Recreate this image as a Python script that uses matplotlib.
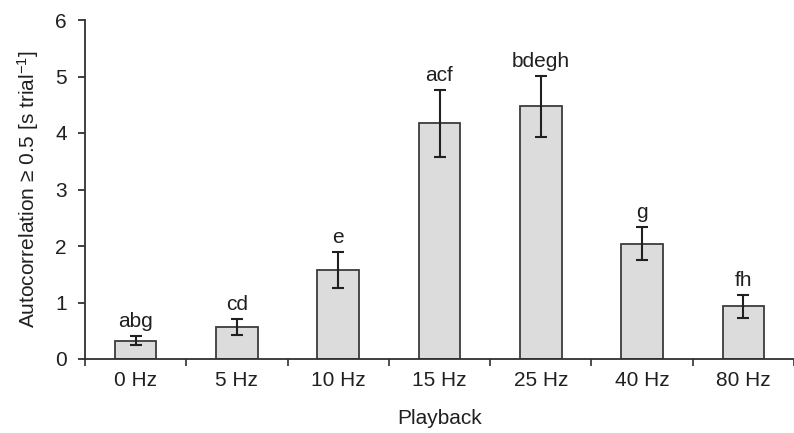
import numpy as np
import matplotlib.pyplot as plt

plt.rcParams['font.family'] = ['Liberation Sans', 'DejaVu Sans']
plt.rcParams['mathtext.fontset'] = 'custom'
plt.rcParams['mathtext.rm'] = 'Liberation Sans'
plt.rcParams['mathtext.default'] = 'rm'

# Mittelwerte und Fehler pro Playback-Frequenz
categories = ['0 Hz', '5 Hz', '10 Hz', '15 Hz', '25 Hz', '40 Hz', '80 Hz']
means = [0.32, 0.56, 1.58, 4.17, 4.47, 2.04, 0.93]
errors = [0.08, 0.14, 0.32, 0.59, 0.54, 0.29, 0.21]
letters = ['abg', 'cd', 'e', 'acf', 'bdegh', 'g', 'fh']

fs = 15
fig = plt.figure(figsize=(7.94, 4.33), dpi=100)
ax = fig.add_axes([85 / 794, 74 / 433, (794 - 85) / 794, 339 / 433])

x = np.arange(len(categories))
ax.bar(x, means, width=0.41, color='#dcdcdc', edgecolor='#3c3c3c', linewidth=1.3, zorder=2)
ax.errorbar(x, means, yerr=errors, fmt='none', ecolor='#202020', elinewidth=1.5,
            capsize=4.5, capthick=1.5, zorder=3)

# Signifikanzbuchstaben über den Fehlerbalken
for xi, m, e, lab in zip(x, means, errors, letters):
    ax.annotate(lab, (xi, m + e), xytext=(0, 6.5), textcoords='offset points',
                ha='center', va='baseline', fontsize=fs, color='#202020')

ax.set_ylim(0, 6)
ax.set_xlim(-0.5, -0.5 + (794 - 85) / 102)
ax.set_yticks(range(7))
ax.set_xticks(np.arange(len(categories) + 1) - 0.5)
ax.set_xticklabels([])
ax.set_xticks(x, minor=True)
ax.set_xticklabels(categories, minor=True)
ax.tick_params(axis='x', which='minor', length=0, pad=9, labelsize=fs, colors='#202020')
ax.tick_params(axis='x', which='major', length=5, width=1.2, direction='out', color='#303030')
ax.tick_params(axis='y', length=5, width=1.2, labelsize=fs, pad=8, colors='#202020')

ax.spines['top'].set_visible(False)
ax.spines['right'].set_visible(False)
for s in ['left', 'bottom']:
    ax.spines[s].set_linewidth(1.3)
    ax.spines[s].set_color('#303030')

ax.set_ylabel('Autocorrelation ≥ 0.5 [s trial$^{-1}$]', fontsize=fs, color='#202020', labelpad=10)
fig.text(440 / 794, 1 - 424 / 433, 'Playback', ha='center', va='baseline', fontsize=fs, color='#202020')

fig.savefig('out.png', dpi=100)
